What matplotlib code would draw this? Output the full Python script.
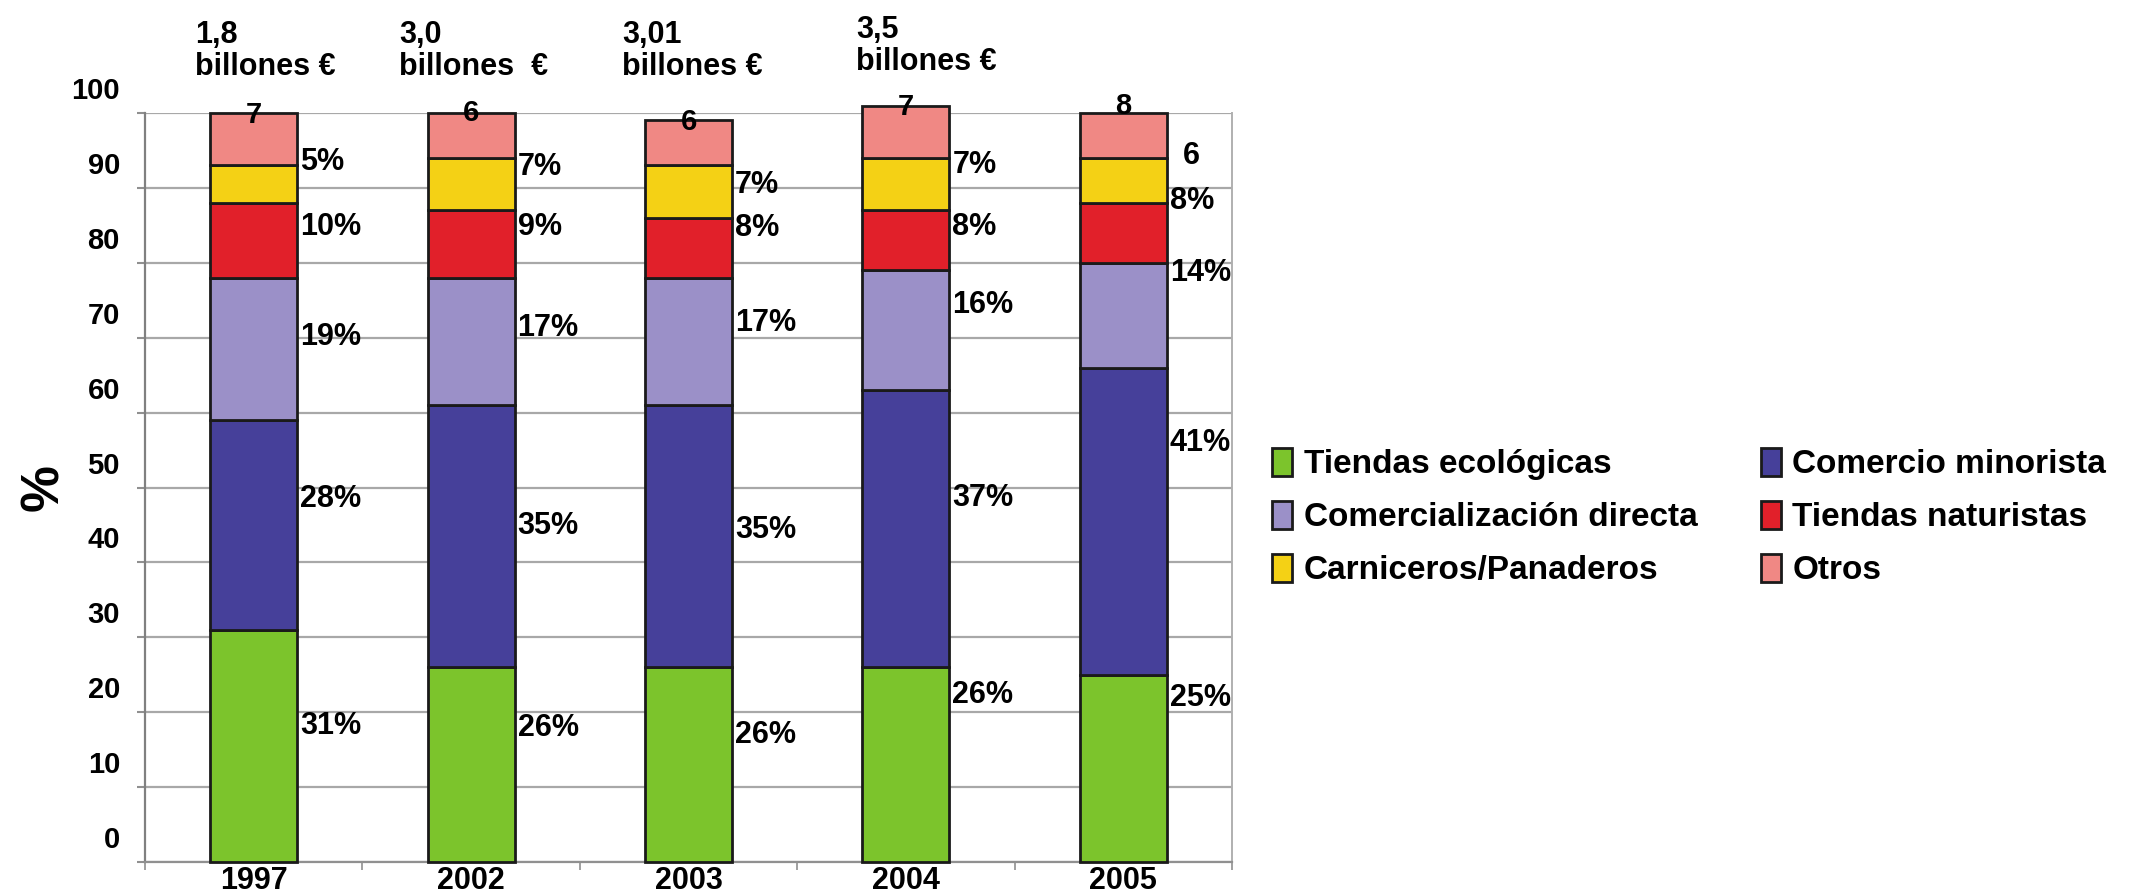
import matplotlib
matplotlib.use('Agg')
import matplotlib.pyplot as plt
import matplotlib.transforms as mtransforms
import numpy as np

# data
years = ['1997', '2002', '2003', '2004', '2005']
series = ['Tiendas ecológicas', 'Comercio minorista', 'Comercialización directa',
          'Tiendas naturistas', 'Carniceros/Panaderos', 'Otros']
tiendas_eco = [31, 26, 26, 26, 25]
comercio_min = [28, 35, 35, 37, 41]
comerc_directa = [19, 17, 17, 16, 14]
tiendas_nat = [10, 9, 8, 8, 8]
carniceros = [5, 7, 7, 7, 6]
otros = [7, 6, 6, 7, 6]
totales = ['1,8\nbillones €', '3,0\nbillones  €', '3,01\nbillones €', '3,5\nbillones €']

labels_1997 = ['31%', '28%', '19%', '10%', '5%', '7']
labels_2002 = ['26%', '35%', '17%', '9%', '7%', '6']
labels_2003 = ['26%', '35%', '17%', '8%', '7%', '6']
labels_2004 = ['26%', '37%', '16%', '8%', '7%', '7']
labels_2005 = ['25%', '41%', '14%', '8%', '6', '8']

# layout of the labels (where they sit in the picture)
lab_y = [[18.2, 48.5, 70.1, 84.8, 93.5, 99.7],
         [17.9, 44.9, 71.3, 84.8, 92.8, 100.0],
         [17.0, 44.3, 71.9, 84.6, 90.4, 98.8],
         [22.3, 48.6, 74.4, 84.8, 93.1, 100.8],
         [21.9, 55.9, 78.6, 88.2, 94.2, 100.9]]
tot_dx = [-0.07, -0.13, -0.105, -0.03]
tot_top = [20, 20, 20, 15]

colors = ['#7cc42c', '#46409a', '#9b90c8', '#e1202a', '#f4d115', '#f08884']

fig = plt.figure(figsize=(21.38, 8.92), dpi=100)
ax = fig.add_axes([145 / 2138, 30 / 892, 1087 / 2138, 749 / 892])

x = np.arange(len(years))
data = [tiendas_eco, comercio_min, comerc_directa, tiendas_nat, carniceros, otros]
bottom = np.zeros(len(years))
for vals, col, name in zip(data, colors, series):
    ax.bar(x, vals, 0.4, bottom=bottom, color=col, edgecolor='#1a1a1a',
           linewidth=2.0, label=name, zorder=3, clip_on=False)
    bottom += np.array(vals)

font = {'family': 'Liberation Sans', 'weight': 'bold'}

all_labels = [labels_1997, labels_2002, labels_2003, labels_2004, labels_2005]
for i, labs in enumerate(all_labels):
    for j, s in enumerate(labs):
        if j == 5:
            ax.text(x[i], lab_y[i][j], s, ha='center', va='center', fontsize=21,
                    zorder=5, **font)
        else:
            dx = 3
            if i == 4 and j == 4:
                dx = 16
            ax.annotate(s, (x[i] + 0.2, lab_y[i][j]), xytext=(dx * 0.72, 0),
                        textcoords='offset points', ha='left', va='center',
                        fontsize=22, zorder=5, **font)

trans = mtransforms.blended_transform_factory(ax.transData, fig.transFigure)
for i, s in enumerate(totales):
    ax.text(x[i] - 0.2 + tot_dx[i], 1 - tot_top[i] / 892, s, transform=trans,
            ha='left', va='top', fontsize=22, linespacing=1.1, **font)

ax.set_xlim(-0.5, 4.5)
ax.set_ylim(0, 100)
ax.set_yticks(np.arange(0, 101, 10))
ax.set_yticklabels([str(v) for v in range(0, 101, 10)], fontsize=21, **font)
ax.set_xticks(x)
ax.set_xticklabels(years, fontsize=22, **font)
ax.set_xticks(np.arange(-0.5, 4.6, 1), minor=True)
ax.tick_params(axis='x', which='major', length=0, pad=3)
ax.tick_params(axis='x', which='minor', length=6, width=1.2, color='#909090', direction='out')
ax.tick_params(axis='y', length=6, width=1.5, color='#909090', pad=12)

offset = mtransforms.ScaledTranslation(0, 25 / 100, fig.dpi_scale_trans)
for lab in ax.get_yticklabels():
    lab.set_transform(lab.get_transform() + offset)

ax.yaxis.grid(True, color='#a8a8a8', linewidth=1.6, zorder=0)
ax.set_axisbelow(True)
ax.spines['top'].set_visible(False)
ax.spines['left'].set_color('#808080')
ax.spines['left'].set_linewidth(1.6)
ax.spines['bottom'].set_color('#909090')
ax.spines['bottom'].set_linewidth(1.6)
ax.spines['right'].set_color('#b0b0b0')
ax.spines['right'].set_linewidth(1.4)

fig.text(44 / 2138, 1 - 488 / 892, '%', rotation=90, ha='center', va='center',
         fontsize=38, **font)

handles, names = ax.get_legend_handles_labels()
order = [0, 2, 4, 1, 3, 5]
leg = fig.legend([handles[k] for k in order], [names[k] for k in order],
                 loc='upper left', bbox_to_anchor=(1272 / 2138, 1 - 448 / 892),
                 ncol=2, frameon=False, borderpad=0, borderaxespad=0,
                 handlelength=0.6, handleheight=0.9, handletextpad=0.35,
                 columnspacing=1.9, labelspacing=0.62,
                 prop={'family': 'Liberation Sans', 'weight': 'bold', 'size': 24})

fig.savefig('out.png', dpi=100, facecolor='white')
